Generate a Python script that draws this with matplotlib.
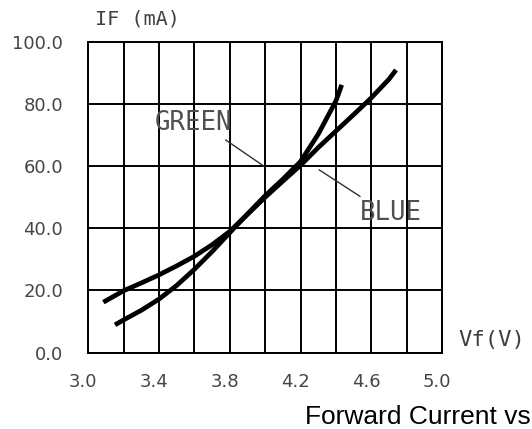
import matplotlib
matplotlib.use("Agg")
import matplotlib.pyplot as plt
from matplotlib.transforms import ScaledTranslation

# Data
blue_vf = [3.085, 3.2, 3.3, 3.4, 3.5, 3.6, 3.7, 3.8, 3.9, 4.0, 4.1, 4.2,
           4.3, 4.4, 4.5, 4.6, 4.7, 4.74]
blue_if = [16.2, 19.9, 22.4, 25.0, 27.9, 31.0, 34.7, 39.0, 44.5, 50.0, 55.2, 60.3,
           66.0, 71.3, 76.6, 82.0, 88.0, 91.0]
green_vf = [3.151, 3.2, 3.3, 3.4, 3.5, 3.6, 3.7, 3.8, 3.9, 4.0, 4.1, 4.2,
            4.3, 4.4, 4.433]
green_if = [8.9, 10.5, 13.6, 17.2, 21.6, 26.8, 32.5, 38.6, 44.6, 50.5, 55.8, 61.5,
            70.3, 81.0, 86.2]
x_ticks = [3.0, 3.4, 3.8, 4.2, 4.6, 5.0]
x_tick_labels = ["3.0", "3.4", "3.8", "4.2", "4.6", "5.0"]
y_ticks = [0, 20, 40, 60, 80, 100]
y_tick_labels = ["0.0", "20.0", "40.0", "60.0", "80.0", "100.0"]

W, H = 532, 429
fig = plt.figure(figsize=(W / 100, H / 100), dpi=100)
L, R, T, B = 88.3, 442.0, 42.0, 352.5
ax = fig.add_axes([L / W, 1 - B / H, (R - L) / W, (B - T) / H])
ax.set_xlim(3.0, 5.0)
ax.set_ylim(0, 100)

# grid
for i in range(11):
    ax.axvline(3.0 + 0.2 * i, color="black", lw=1.4, zorder=1)
for v in range(0, 101, 20):
    ax.axhline(v, color="black", lw=1.4, zorder=1)
for s in ax.spines.values():
    s.set_linewidth(1.4)

ax.plot(blue_vf, blue_if, color="black", lw=3.4, solid_capstyle="butt",
        solid_joinstyle="round", zorder=3)
ax.plot(green_vf, green_if, color="black", lw=3.4, solid_capstyle="butt",
        solid_joinstyle="round", zorder=3)

ax.set_xticks(x_ticks)
ax.set_xticklabels(x_tick_labels)
ax.set_yticks(y_ticks)
ax.set_yticklabels(y_tick_labels)
ax.tick_params(length=0, labelsize=13, labelcolor="#454545")
ax.tick_params(axis="x", pad=15)
ax.tick_params(axis="y", pad=18)
shift = ScaledTranslation(-5 / 100, 0, fig.dpi_scale_trans)
for lab in ax.get_xticklabels():
    lab.set_transform(lab.get_transform() + shift)

mono = "DejaVu Sans Mono"
ax.text(3.376, 74.0, "GREEN", family=mono, fontsize=18.5, color="#505050",
        ha="left", va="center", zorder=4)
ax.text(4.536, 45.0, "BLUE", family=mono, fontsize=18.5, color="#505050",
        ha="left", va="center", zorder=4)
ax.plot([3.778, 3.993], [68.4, 60.0], color="#303030", lw=1.0, zorder=4)
ax.plot([4.306, 4.536], [58.8, 50.3], color="#303030", lw=1.0, zorder=4)

fig.text(95 / W, 1 - 19 / H, "IF (mA)", family=mono, fontsize=14.5,
         color="#404040", ha="left", va="center")
fig.text(458 / W, 1 - 340 / H, "Vf(V)", family=mono, fontsize=16,
         color="#404040", ha="left", va="center")
fig.text(305 / W, 1 - 424 / H, "Forward Current vs", family="Liberation Sans",
         fontsize=19, color="black", ha="left", va="baseline")

fig.savefig("out.png", dpi=100)
